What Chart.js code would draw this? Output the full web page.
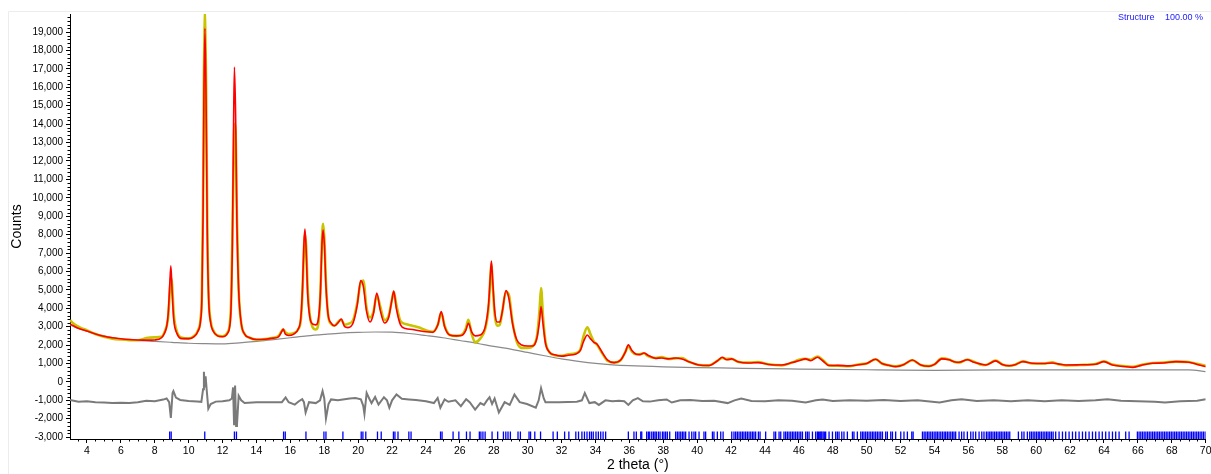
<!DOCTYPE html>
<html lang="en">

<head>
	<meta charset="UTF-8">
	<title>Rietveld plot</title>
	<style>
		body {
			margin: 0;
			background-color: white;
		}

		#chart {
			display: block;
		}
	</style>
</head>

<body>
	<canvas id="chart" width="1211" height="474"></canvas>
	<script src="https://cdn.jsdelivr.net/npm/chart.js"></script>
	<script>
		// 2 theta positions of the observed / calculated profile
		const thetaCalc = [3.0, 3.3, 3.6, 4.0, 4.5, 5.0, 5.5, 6.0, 6.5, 7.0, 7.5, 8.0, 8.4, 8.6, 8.72, 8.8, 8.88, 8.95, 9.02, 9.12, 9.3, 9.6,
			10.0, 10.3, 10.55, 10.7, 10.78, 10.85, 10.9, 10.96, 11.03, 11.1, 11.18, 11.3, 11.45, 11.7, 12.0, 12.3, 12.42, 12.5, 12.58, 12.65, 12.7, 12.77, 12.85, 12.95,
			13.1, 13.3, 13.6, 14.0, 14.5, 15.0, 15.3, 15.5, 15.58, 15.7, 15.9, 16.2, 16.45, 16.62, 16.72, 16.8, 16.86, 16.93, 17.02, 17.15, 17.3, 17.5, 17.68,
			17.78, 17.86, 17.93, 18.01, 18.1, 18.22, 18.4, 18.6, 18.85, 19.0, 19.2, 19.4, 19.7, 19.95, 20.15, 20.3, 20.5, 20.7, 20.9, 21.1, 21.3, 21.55, 21.8,
			22.0, 22.1, 22.25, 22.5, 22.8, 23.2, 23.6, 24.0, 24.4, 24.7, 24.9, 25.1, 25.4, 25.8, 26.1, 26.35, 26.5, 26.7, 26.9, 27.2, 27.5, 27.7,
			27.8, 27.86, 27.93, 28.05, 28.2, 28.35, 28.5, 28.72, 28.9, 29.1, 29.35, 29.65, 30.0, 30.3, 30.55, 30.7, 30.79, 30.9, 31.05, 31.3, 31.6, 32.0, 32.4,
			32.8, 33.1, 33.3, 33.52, 33.7, 33.9, 34.1, 34.4, 34.7, 35.1, 35.5, 35.75, 35.94, 36.15, 36.4, 36.6, 36.86, 37.1, 37.55, 37.9, 38.3,
			38.7, 39.1, 39.5, 40.1, 40.7, 41.2, 41.48, 41.75, 42.03, 42.4, 43.06, 43.6, 44.2, 45.0, 45.6, 46.0, 46.4, 46.7, 47.1, 47.4, 47.78,
			48.3, 48.96, 49.5, 50.0, 50.53, 50.9, 51.3, 51.71, 52.2, 52.69, 53.19, 53.68, 54.0, 54.43, 54.86, 55.15, 55.45, 55.94, 56.33, 56.7,
			57.02, 57.61, 58.0, 58.4, 58.8, 59.22, 59.77, 60.4, 60.95, 61.3, 61.74, 62.6, 63.5, 64.0, 64.5, 65.0, 65.68, 66.2, 66.86, 67.5,
			68.24, 69.0, 69.5, 70.0];

		const yCalc = [3150, 3000, 2880, 2760, 2600, 2480, 2400, 2340, 2300, 2280, 2270, 2280, 2400, 2700, 3100, 3800, 5200, 6300, 5000, 3400, 2650, 2350,
			2350, 2450, 2750, 3300, 4500, 9000, 15500, 19200, 15000, 8000, 4500, 3200, 2750, 2500, 2450, 2650, 3000, 4000, 7500, 14000, 17100, 14500, 8500, 5000,
			3200, 2600, 2400, 2300, 2320, 2380, 2450, 2750, 2870, 2600, 2520, 2600, 2850, 3500, 5200, 7500, 8300, 7200, 4800, 3500, 3150, 3100, 3600,
			5000, 7400, 8250, 7400, 5200, 3700, 3200, 3050, 3250, 3420, 3000, 2950, 3200, 4200, 5500, 5200, 3800, 3250, 3700, 4830, 3900, 3200, 3500,
			4500, 4940, 4000, 3100, 2900, 2850, 2780, 2720, 2700, 3100, 3820, 3000, 2550, 2500, 2520, 2800, 3180, 2700, 2500, 2550, 3000, 4300,
			5800, 6570, 5600, 3900, 3250, 3250, 3800, 4960, 4500, 3200, 2300, 2000, 1950, 1950, 2400, 3300, 4090, 3200, 2100, 1600, 1470, 1400, 1450,
			1500, 1700, 2200, 2550, 2350, 2150, 2050, 1600, 1200, 1050, 1200, 1600, 2010, 1700, 1500, 1480, 1570, 1450, 1280, 1300, 1250,
			1300, 1250, 1100, 920, 890, 1150, 1340, 1200, 1250, 1100, 1030, 1050, 950, 920, 1050, 1150, 1250, 1150, 1340, 1150, 890,
			900, 870, 930, 1000, 1230, 1000, 900, 830, 950, 1190, 920, 850, 950, 1250, 1200, 1100, 1070, 1200, 1070, 980,
			920, 1140, 950, 880, 950, 1100, 1010, 1000, 1030, 980, 920, 930, 960, 1100, 920, 850, 790, 900, 1010, 1030,
			1100, 1070, 950, 830];

		const yObs = [3350, 3100, 2950, 2800, 2600, 2450, 2350, 2300, 2270, 2260, 2380, 2420, 2450, 2750, 3100, 3600, 4800, 5700, 5300, 3700, 2750, 2400,
			2350, 2480, 2800, 3400, 4800, 9800, 16500, 20000, 16000, 8500, 4700, 3300, 2800, 2520, 2480, 2700, 3100, 4200, 7800, 12000, 14000, 13500, 8800, 5000,
			3200, 2600, 2400, 2300, 2330, 2400, 2500, 2780, 2850, 2700, 2600, 2650, 2850, 3400, 5000, 7200, 8000, 7400, 5100, 3600, 3000, 2850, 3400,
			5000, 7600, 8580, 7700, 5400, 3700, 3150, 3050, 3300, 3380, 3100, 3150, 3350, 4300, 5400, 5500, 4000, 3500, 3800, 4700, 4100, 3350, 3600,
			4500, 4900, 4200, 3300, 3150, 3050, 2950, 2800, 2720, 3100, 3750, 3050, 2550, 2500, 2550, 2900, 3370, 2600, 2150, 2350, 2900, 4100,
			5700, 6400, 5400, 3700, 3050, 3100, 3800, 4900, 4700, 3300, 2200, 1850, 1850, 1950, 2500, 3900, 5100, 3600, 2200, 1600, 1450, 1420, 1500,
			1550, 1750, 2500, 2970, 2600, 2200, 2000, 1550, 1150, 1050, 1200, 1600, 1950, 1650, 1500, 1500, 1560, 1400, 1300, 1350, 1250,
			1280, 1300, 1100, 920, 900, 1150, 1300, 1250, 1250, 1100, 1050, 1080, 960, 900, 1050, 1200, 1250, 1200, 1380, 1200, 900,
			880, 850, 950, 1000, 1230, 1000, 900, 850, 950, 1180, 920, 860, 950, 1280, 1220, 1100, 1050, 1220, 1100, 950,
			920, 1160, 950, 880, 950, 1120, 1000, 1000, 1060, 960, 900, 920, 970, 1120, 940, 880, 820, 920, 1030, 1050,
			1100, 1080, 980, 880];

		// background curve
		const thetaBg = [3.0, 3.5, 4.0, 5.0, 6.0, 7.0, 8.0, 9.0, 10.0, 11.0, 12.0, 13.0, 14.0, 15.0, 16.0, 17.0, 18.0, 19.0, 20.0, 21.0, 22.0,
			23.0, 24.0, 25.0, 26.0, 27.0, 28.0, 29.0, 30.0, 31.0, 32.0, 33.0, 34.0, 35.0, 36.0, 38.0, 40.0, 42.0, 44.0, 46.0, 48.0, 50.0,
			52.0, 54.0, 58.0, 62.0, 66.0, 69.0, 70.0];
		const yBg = [3100, 2900, 2750, 2500, 2330, 2250, 2200, 2150, 2100, 2080, 2070, 2120, 2200, 2300, 2400, 2500, 2580, 2650, 2690, 2710, 2700,
			2630, 2520, 2400, 2250, 2100, 1930, 1780, 1600, 1420, 1250, 1120, 1010, 930, 880, 820, 780, 750, 720, 700, 680, 660,
			640, 630, 650, 650, 650, 650, 560];

		// difference curve (obs - calc, offset)
		const thetaDiff = [3.0, 3.5, 4.0, 4.5, 5.0, 5.5, 6.0, 6.5, 7.0, 7.5, 8.0, 8.5, 8.7, 8.85, 8.95, 9.05, 9.1, 9.25, 9.5, 10.0, 10.5, 10.75,
			10.85, 10.9, 10.95, 11.0, 11.08, 11.16, 11.3, 11.6, 12.0, 12.4, 12.55, 12.62, 12.68, 12.74, 12.8, 12.85, 12.95, 13.1, 13.3, 14.0,
			15.0, 15.5, 15.72, 15.9, 16.26, 16.5, 16.7, 16.8, 16.9, 17.1, 17.5, 17.75, 17.9, 18.0, 18.1, 18.25, 18.4, 18.8, 19.2, 19.5, 19.84,
			20.16, 20.3, 20.37, 20.5, 20.65, 20.79, 21.0, 21.2, 21.52, 21.7, 21.84, 22.0, 22.26, 22.58, 23.0, 23.41, 24.0, 24.47, 24.69, 24.85,
			25.1, 25.32, 25.74, 26.06, 26.37, 26.58, 26.9, 27.21, 27.42, 27.6, 27.75, 27.9, 28.05, 28.3, 28.64, 28.94, 29.22, 29.53, 29.96,
			30.48, 30.65, 30.79, 30.95, 31.05, 31.85, 32.9, 33.2, 33.37, 33.64, 33.96, 34.2, 34.59, 35.0, 35.39, 35.7, 35.94, 36.2, 36.5, 36.8,
			37.2, 37.7, 38.2, 38.5, 39.0, 39.6, 40.3, 41.0, 41.8, 42.2, 42.6, 43.2, 44.0, 44.8, 45.6, 46.4, 47.0, 47.4, 48.0, 49.0, 50.0,
			51.0, 52.0, 53.0, 54.3, 55.0, 55.6, 56.5, 57.5, 58.5, 59.5, 60.5, 61.5, 62.5, 63.5, 64.2, 65.0, 66.0, 67.0, 67.6, 68.5, 69.5, 70.0];
		const yDiff = [-980, -1080, -1050, -1100, -1120, -1150, -1130, -1150, -1100, -1020, -1050, -960, -900, -1100, -1950, -600, -500, -850, -980, -1030, -1060, -1080,
			-400, 550, -300, 300, -600, -1450, -1200, -1070, -1050, -1000, -900, -300, -2350, -200, -2400, -2350, -750, -1000, -1150, -1100,
			-1100, -1100, -840, -1100, -1230, -1050, -940, -1100, -1660, -1100, -1150, -1000, -500, -900, -1990, -1200, -950, -1000, -940, -900, -870,
			-950, -1300, -1740, -600, -900, -1150, -820, -1230, -830, -1000, -1400, -1000, -680, -920, -950, -980, -1050, -1150, -870, -1400,
			-950, -1080, -1000, -1320, -940, -1100, -1500, -1150, -1250, -1000, -830, -1200, -900, -1660, -1100, -1250, -690, -1100, -1200,
			-1400, -1000, -340, -900, -1100, -1100, -1080, -1000, -600, -1150, -1100, -1250, -1000, -1050, -1020, -1050, -1250, -1000, -880, -1050,
			-1070, -1000, -950, -1120, -1000, -980, -1030, -1020, -1150, -1000, -900, -1030, -1050, -1000, -1020, -1120, -1000, -950, -1030, -1000, -1020,
			-980, -1030, -1000, -1120, -1000, -940, -1030, -1000, -1050, -1000, -1050, -1000, -1030, -1000, -940, -1020, -1050, -1080, -1120, -1050, -1020, -940];

		// reflection positions (2 theta)
		const reflections = [8.88, 8.97, 10.95, 12.7, 12.82, 15.6, 15.7, 16.92, 17.98, 18.1, 19.1, 20.18, 20.28, 20.45, 21.14, 21.36, 22.08, 22.17,
			22.35, 22.99, 23.12, 24.86, 24.95, 25.6, 25.94, 26.39, 26.6, 27.15, 27.24, 27.36, 27.49, 27.9, 28.23, 28.57, 28.71, 28.84, 28.98,
			29.43, 29.57, 30.08, 30.17, 30.42, 30.76, 31.5, 31.75, 32.18, 32.43, 32.84, 33.0, 33.2, 33.35, 33.5, 33.65, 33.76, 33.87, 34.03,
			34.17, 34.31, 34.45, 34.6, 35.94, 36.27, 36.41, 36.67, 36.73, 37.02, 37.12, 37.2, 37.32, 37.42, 37.51, 37.59, 37.71, 37.81, 37.95,
			38.04, 38.14, 38.24, 38.38, 38.73, 38.83, 38.93, 39.03, 39.13, 39.22, 39.32, 39.52, 39.68, 39.81, 39.91, 40.11, 40.4, 40.5, 40.9,
			40.99, 41.19, 41.39, 41.53, 42.04, 42.17, 42.27, 42.37, 42.47, 42.57, 42.67, 42.76, 42.86, 42.96, 43.06, 43.16, 43.26, 43.35,
			43.45, 43.61, 43.71, 44.04, 44.53, 44.63, 44.83, 44.93, 45.12, 45.22, 45.32, 45.42, 45.52, 45.62, 45.71, 45.81, 45.91, 46.01,
			46.11, 46.21, 46.4, 46.5, 46.6, 46.8, 46.99, 47.09, 47.15, 47.23, 47.29, 47.35, 47.43, 47.5, 47.58, 47.78, 47.98, 48.17, 48.27,
			48.37, 48.53, 48.66, 48.86, 49.16, 49.25, 49.45, 49.65, 49.75, 49.84, 49.94, 50.04, 50.14, 50.24, 50.34, 50.43, 50.53, 50.63,
			50.73, 50.83, 50.93, 51.12, 51.22, 51.42, 51.52, 51.71, 52.01, 52.2, 52.4, 52.66, 52.74, 53.29, 53.39, 53.49, 53.59, 53.68, 53.78,
			53.88, 53.98, 54.08, 54.17, 54.27, 54.37, 54.47, 54.57, 54.66, 54.76, 54.86, 54.96, 55.06, 55.15, 55.25, 55.45, 55.6, 55.74,
			55.94, 56.14, 56.28, 56.43, 56.63, 56.79, 56.92, 57.06, 57.16, 57.26, 57.35, 57.45, 57.55, 57.65, 57.75, 57.85, 57.94, 58.04,
			58.14, 58.24, 58.34, 58.44, 58.95, 59.15, 59.28, 59.48, 59.62, 59.72, 59.82, 59.92, 60.02, 60.12, 60.21, 60.31, 60.41, 60.51,
			60.61, 60.7, 60.8, 60.9, 61.0, 61.15, 61.35, 61.55, 61.74, 61.94, 62.14, 62.33, 62.53, 62.73, 62.92, 63.12, 63.32, 63.51, 63.71,
			63.9, 64.1, 64.3, 64.5, 64.69, 64.89, 65.28, 65.48, 65.97, 66.07, 66.17, 66.27, 66.37, 66.47, 66.57, 66.67, 66.77, 66.87, 66.97,
			67.07, 67.17, 67.27, 67.37, 67.47, 67.57, 67.67, 67.77, 67.87, 67.97, 68.07, 68.17, 68.27, 68.37, 68.47, 68.57, 68.67, 68.77,
			68.87, 68.97, 69.07, 69.17, 69.27, 69.37, 69.47, 69.57, 69.67, 69.77, 69.87, 69.97];
		const reflectionLevel = -2900;

		// axis ticks
		const xTicks = [4, 6, 8, 10, 12, 14, 16, 18, 20, 22, 24, 26, 28, 30, 32, 34, 36, 38, 40, 42, 44, 46, 48, 50, 52, 54, 56, 58, 60, 62, 64, 66, 68, 70];
		const yTicks = [-3000, -2000, -1000, 0, 1000, 2000, 3000, 4000, 5000, 6000, 7000, 8000, 9000, 10000, 11000, 12000, 13000, 14000, 15000, 16000, 17000, 18000, 19000];

		const xMin = 3, xMax = 70;
		const yMin = -3100, yMax = 19980;

		function pts(xs, ys) {
			return xs.map((x, i) => ({ x: x, y: ys[i] }));
		}

		// minor ticks, frame and the phase label
		const extras = {
			id: 'extras',
			beforeDraw(chart) {
				const ctx = chart.ctx;
				ctx.save();
				ctx.strokeStyle = '#ececec';
				ctx.lineWidth = 1;
				ctx.beginPath();
				ctx.moveTo(8.5, 474);
				ctx.lineTo(8.5, 11.5);
				ctx.lineTo(1211, 11.5);
				ctx.stroke();
				ctx.restore();
			},
			afterDraw(chart) {
				const ctx = chart.ctx;
				const xs = chart.scales.x, ys = chart.scales.y;
				const area = chart.chartArea;
				ctx.save();
				ctx.strokeStyle = '#000';
				ctx.lineWidth = 1;
				ctx.beginPath();
				for (let v = 3.5; v <= xMax; v += 0.5) {
					if (v % 2 === 0) continue;
					const px = Math.round(xs.getPixelForValue(v)) + 0.5;
					ctx.moveTo(px, area.bottom);
					ctx.lineTo(px, area.bottom + 2.5);
				}
				for (let v = -3000; v <= 19800; v += 200) {
					if (v % 1000 === 0) continue;
					const py = Math.round(ys.getPixelForValue(v)) + 0.5;
					ctx.moveTo(area.left, py);
					ctx.lineTo(area.left - 2.5, py);
				}
				ctx.stroke();

				ctx.fillStyle = '#2020ff';
				ctx.font = '9px "Liberation Sans", Arial, sans-serif';
				ctx.textBaseline = 'middle';
				ctx.textAlign = 'left';
				ctx.fillText('Structure', 1118, 18);
				ctx.textAlign = 'right';
				ctx.fillText('100.00 %', 1203, 18);
				ctx.restore();
			}
		};

		const ctx = document.getElementById('chart').getContext('2d');
		new Chart(ctx, {
			type: 'scatter',
			data: {
				datasets: [{
					label: 'Calc',
					data: pts(thetaCalc, yCalc),
					showLine: true,
					borderColor: '#ff0000',
					borderWidth: 1.6,
					pointRadius: 0,
					cubicInterpolationMode: 'monotone',
					order: 0
				}, {
					label: 'Obs',
					data: pts(thetaCalc, yObs),
					showLine: true,
					borderColor: '#c8c400',
					borderWidth: 2.6,
					pointRadius: 0,
					cubicInterpolationMode: 'monotone',
					order: 1
				}, {
					label: 'Background',
					data: pts(thetaBg, yBg),
					showLine: true,
					borderColor: '#8a8a8a',
					borderWidth: 1.2,
					pointRadius: 0,
					cubicInterpolationMode: 'monotone',
					order: 2
				}, {
					label: 'Difference',
					data: pts(thetaDiff, yDiff),
					showLine: true,
					borderColor: '#7a7a7a',
					borderWidth: 2,
					pointRadius: 0,
					order: 2
				}, {
					label: 'Reflections',
					data: reflections.map(x => ({ x: x, y: reflectionLevel })),
					showLine: false,
					pointStyle: 'line',
					rotation: 90,
					radius: 3.8,
					borderColor: '#0000ff',
					borderWidth: 1.3,
					order: 2
				}]
			},
			options: {
				responsive: false,
				animation: false,
				devicePixelRatio: 1,
				layout: {
					padding: { top: 14, right: 4, left: 0, bottom: 0 }
				},
				plugins: {
					legend: { display: false },
					tooltip: { enabled: false }
				},
				scales: {
					x: {
						type: 'linear',
						min: xMin,
						max: xMax,
						afterBuildTicks: s => { s.ticks = xTicks.map(v => ({ value: v })); },
						afterFit: s => { s.height = 35; s.paddingLeft = 0; s.paddingRight = 0; },
						ticks: {
							autoSkip: false,
							maxRotation: 0,
							padding: 2,
							color: '#000',
							font: { family: 'Liberation Sans, Arial', size: 10.5 }
						},
						grid: {
							drawOnChartArea: false,
							drawTicks: true,
							tickLength: 4,
							color: '#000'
						},
						border: { color: '#000' },
						title: {
							display: true,
							text: '2 theta (°)',
							color: '#000',
							padding: { top: 0, bottom: 0 },
							font: { family: 'Liberation Sans, Arial', size: 14 }
						}
					},
					y: {
						type: 'linear',
						min: yMin,
						max: yMax,
						afterBuildTicks: s => { s.ticks = yTicks.map(v => ({ value: v })); },
						afterFit: s => { s.width = 70; },
						ticks: {
							autoSkip: false,
							padding: 3,
							color: '#000',
							font: { family: 'Liberation Sans, Arial', size: 10 },
							callback: v => Number(v).toLocaleString('en-US')
						},
						grid: {
							drawOnChartArea: false,
							drawTicks: true,
							tickLength: 4,
							color: '#000'
						},
						border: { color: '#000' },
						title: {
							display: true,
							text: 'Counts',
							color: '#000',
							padding: { top: 9, bottom: 0 },
							font: { family: 'Liberation Sans, Arial', size: 14 }
						}
					}
				}
			},
			plugins: [extras]
		});
	</script>
</body>

</html>
